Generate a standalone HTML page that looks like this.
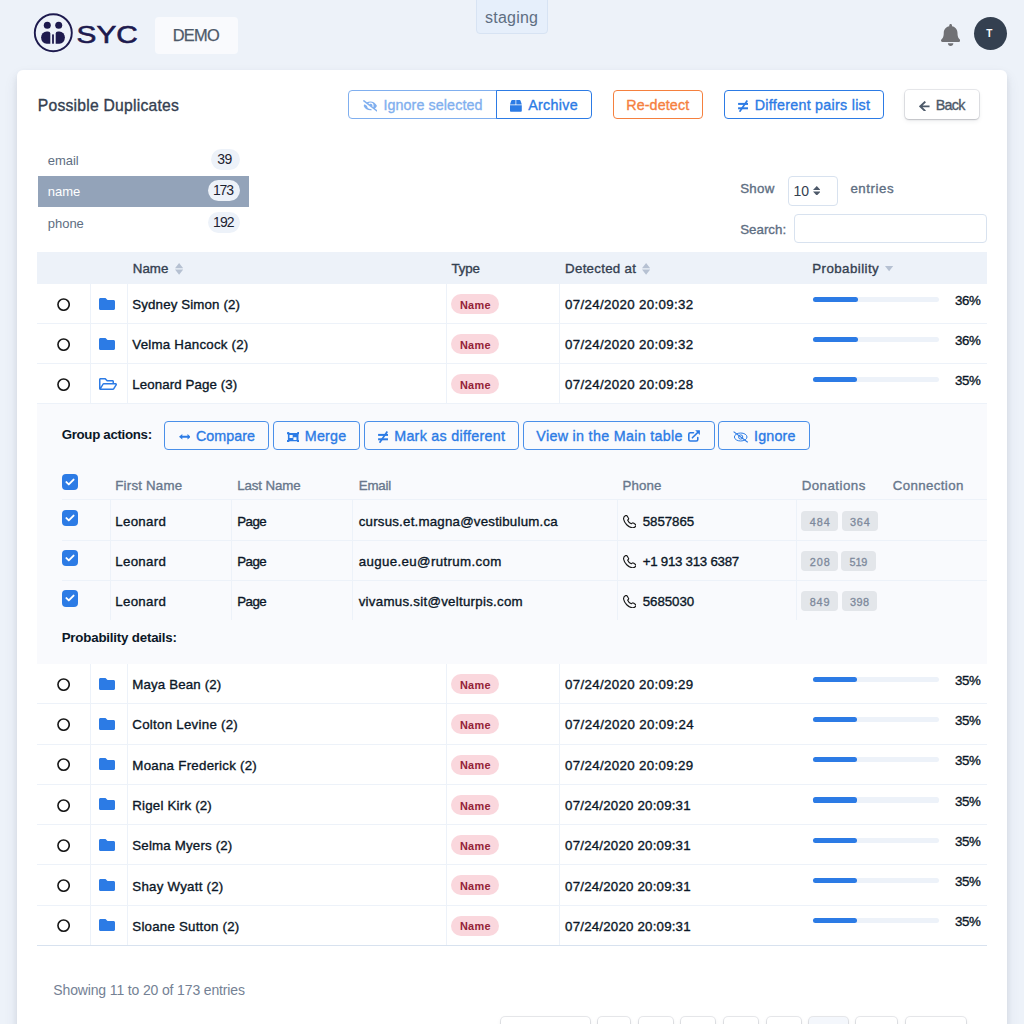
<!DOCTYPE html><html lang="en"><head><meta charset="utf-8"><title>Possible Duplicates</title><style>
html,body{margin:0;padding:0}body{position:relative;width:1024px;height:1024px;overflow:hidden;background:#edf2f9;font-family:'Liberation Sans',sans-serif;}
.a{position:absolute;box-sizing:border-box;display:block}.t{position:absolute;white-space:pre;line-height:20px;margin:0;padding:0;font-weight:400}
button{font-family:inherit;padding:0;margin:0;background:transparent}
.btn{position:absolute;box-sizing:border-box;border:1.2px solid #2c7be5;border-radius:4px;background:transparent}
.ln{position:absolute;background:#edf2f9}
ul{list-style:none;margin:0;padding:0}
</style></head><body>
<header>
<svg class="a" style="left:33px;top:13px" width="110" height="40" viewBox="0 0 110 40" ><circle cx="20.3" cy="19.8" r="18.5" fill="none" stroke="#1d1a4e" stroke-width="1.9"/><circle cx="14.3" cy="12.2" r="3.5" fill="#1d1a4e"/><circle cx="25.7" cy="12.2" r="3.5" fill="#1d1a4e"/><path fill="#1d1a4e" d="M17.3 20.6Q17.3 18.4 15 18.4L13.6 18.4A5.5 6.15 0 0 0 13.6 30.7L17.3 30.7Z"/><path fill="#1d1a4e" d="M22.7 20.6Q22.7 18.4 25 18.4L26.4 18.4A5.5 6.15 0 0 1 26.4 30.7L22.7 30.7Z"/><rect x="19.1" y="21.4" width="1.8" height="9.3" fill="#1d1a4e"/><text x="43.6" y="29.7" font-family="Liberation Sans, sans-serif" font-size="24.2" fill="#1d1a4e" textLength="61.2" lengthAdjust="spacingAndGlyphs" stroke="#1d1a4e" stroke-width="0.6">SYC</text></svg>
<div class="a" style="left:154.75px;top:16.5px;width:82.75px;height:37.25px;background:#f9fafd;border-radius:4px"></div>
<span class="t" style="left:172.70px;top:25.05px;font-size:16.4px;color:#4d5969;letter-spacing:-0.729px;-webkit-text-stroke:0.25px #4d5969;">DEMO</span>
<div class="a" style="left:476.25px;top:-4px;width:71.4px;height:37.5px;background:#e6effb;border:1px solid #d7e3f3;border-radius:4px"></div>
<span class="t" style="left:485.10px;top:7.55px;font-size:16px;color:#5e6e82;letter-spacing:0.201px;">staging</span>
<svg class="a" style="left:941px;top:24px" width="19.25" height="22" viewBox="0 0 448 512" ><path fill="#707175" d="M224 512c35.32 0 63.97-28.65 63.97-64H160.03c0 35.35 28.65 64 63.97 64zm215.39-149.71c-19.32-20.76-55.47-51.99-55.47-154.29 0-77.7-54.48-139.9-127.94-155.16V32c0-17.67-14.32-32-31.980-32s-31.980 14.330-31.980 32v20.840C118.560 68.100 64.080 130.300 64.080 208c0 102.300-36.150 133.530-55.470 154.290-6 6.450-8.660 14.160-8.610 21.710.110 16.400 12.980 32 32.100 32h383.800c19.120 0 32-15.600 32.100-32 .05-7.550-2.610-15.270-8.610-21.710z"/></svg>
<div class="a" style="left:973.7px;top:16.8px;width:33px;height:33px;background:#344050;border-radius:50%"></div>
<span class="t" style="left:986.30px;top:23.55px;font-size:10px;color:#fff;font-weight:700;">T</span>
</header>
<main>
<div class="a" style="left:16.6px;top:70px;width:990.8px;height:1000px;background:#fff;border-radius:6px;box-shadow:0 7px 14px 0 rgba(59,65,94,.1),0 3px 6px 0 rgba(0,0,0,.07)"></div>
<h5 class="t" style="left:37.80px;top:95.55px;font-size:15.7px;color:#344050;letter-spacing:0.233px;-webkit-text-stroke:0.35px #344050;">Possible Duplicates</h5>
<div style="opacity:.6">
<button class="btn" style="left:347.8px;top:89.8px;width:149.2px;height:29.4px;border-radius:4px 0 0 4px"></button>
<svg class="a" style="left:362.8px;top:100px" width="14.6" height="11.68" viewBox="0 0 640 512" ><path fill="#2c7be5" d="M320 400c-75.85 0-137.25-58.71-142.9-133.11L72.2 185.82c-13.79 17.3-26.48 35.59-36.72 55.59a32.35 32.35 0 0 0 0 29.19C89.71 376.41 197.07 448 320 448c26.91 0 52.87-4 77.89-10.46L346 397.39a144.13 144.13 0 0 1-26 2.61zm313.82 58.1l-110.55-85.44a331.25 331.25 0 0 0 81.25-102.07 32.35 32.35 0 0 0 0-29.19C550.29 135.59 442.93 64 320 64a308.15 308.15 0 0 0-147.32 37.7L45.46 3.37A16 16 0 0 0 23 6.18L3.37 31.45A16 16 0 0 0 6.18 53.9l588.36 454.73a16 16 0 0 0 22.46-2.81l19.64-25.27a16 16 0 0 0-2.82-22.45zm-183.72-142l-39.3-30.38A94.75 94.75 0 0 0 416 256a94.76 94.76 0 0 0-121.31-92.21A47.65 47.65 0 0 1 304 192a46.64 46.64 0 0 1-1.54 10l-73.61-56.89A142.31 142.31 0 0 1 320 112a143.92 143.92 0 0 1 144 144c0 21.63-5.29 41.79-13.9 60.11z"/></svg>
<span class="t" style="left:383.45px;top:95.05px;font-size:14.3px;color:#2c7be5;letter-spacing:0.088px;-webkit-text-stroke:0.35px #2c7be5;">Ignore selected</span>
</div>
<button class="btn" style="left:495.8px;top:89.8px;width:96.2px;height:29.4px;border-radius:0 4px 4px 0"></button>
<svg class="a" style="left:510.25px;top:100px" width="11.8" height="11.8" viewBox="0 0 512 512" ><path fill="#2c7be5" d="M509.5 184.6L458.9 32.8C452.4 13.2 434.1 0 413.4 0H272v192h238.7c-.4-2.5-.4-5-1.2-7.4zM240 0H98.6c-20.7 0-39 13.2-45.5 32.8L2.5 184.6c-.8 2.4-.8 4.9-1.2 7.4H240V0zM0 224v240c0 26.5 21.5 48 48 48h416c26.5 0 48-21.5 48-48V224H0z"/></svg>
<span class="t" style="left:528.20px;top:95.05px;font-size:14.3px;color:#2c7be5;letter-spacing:0.302px;-webkit-text-stroke:0.35px #2c7be5;">Archive</span>
<button class="btn" style="left:612.9px;top:89.8px;width:89.9px;height:29.4px;border-color:#f5803e"></button>
<span class="t" style="left:626.20px;top:95.05px;font-size:14.3px;color:#f5803e;letter-spacing:0.127px;-webkit-text-stroke:0.35px #f5803e;">Re-detect</span>
<button class="btn" style="left:723.8px;top:89.8px;width:159.9px;height:29.4px;"></button>
<svg class="a" style="left:738px;top:100px" width="10.4" height="12" viewBox="0 0 10.4 12" ><g fill="#2c7be5"><rect x="0.100" y="2.900" width="10.200" height="2"/><rect x="0.100" y="7.300" width="10.200" height="2"/><path d="M0.900 11.300L8.600 0.100L10 1L2.300 12.200Z"/></g></svg>
<span class="t" style="left:754.70px;top:95.05px;font-size:14.3px;color:#2c7be5;letter-spacing:0.269px;-webkit-text-stroke:0.35px #2c7be5;">Different pairs list</span>
<button class="btn" style="left:905.2px;top:90.3px;width:73.4px;height:28.4px;border:0;background:#fff;border-radius:4px;box-shadow:0 0 0 1px rgba(43,45,80,.1),0 2px 5px 0 rgba(43,45,80,.08),0 1px 1.5px 0 rgba(0,0,0,.07),0 1px 2px 0 rgba(0,0,0,.08)"></button>
<svg class="a" style="left:918.6px;top:100.6px" width="11" height="10.8" viewBox="0 0 11 10.8" ><path fill="none" stroke="#4d5969" stroke-width="1.9" stroke-linecap="square" d="M1.500 5.400H9.600M5.600 1.300L1.300 5.400L5.600 9.500"/></svg>
<span class="t" style="left:935.70px;top:95.05px;font-size:14.3px;color:#4d5969;letter-spacing:-0.732px;-webkit-text-stroke:0.35px #4d5969;">Back</span>
<ul>
<div class="a" style="left:38px;top:175.5px;width:211px;height:31.4px;background:#93a3b9"></div>
<li>
<span class="t" style="left:47.70px;top:150.55px;font-size:13px;color:#5e6e82;">email</span>
<div class="a" style="left:210.6px;top:149.0px;width:29.0px;height:20.8px;background:#edf2f9;border-radius:10.4px"></div>
<span class="t" style="left:217.20px;top:149.05px;font-size:14px;color:#1c2230;letter-spacing:-0.578px;">39</span>
</li>
<li>
<span class="t" style="left:47.70px;top:181.55px;font-size:13px;color:#fff;">name</span>
<div class="a" style="left:207.9px;top:180.45px;width:31.69999999999999px;height:20.8px;background:#edf2f9;border-radius:10.4px"></div>
<span class="t" style="left:213.00px;top:180.05px;font-size:14px;color:#1c2230;letter-spacing:-1.180px;">173</span>
</li>
<li>
<span class="t" style="left:47.70px;top:213.55px;font-size:13px;color:#5e6e82;">phone</span>
<div class="a" style="left:207.9px;top:211.9px;width:31.69999999999999px;height:20.8px;background:#edf2f9;border-radius:10.4px"></div>
<span class="t" style="left:213.00px;top:212.05px;font-size:14px;color:#1c2230;letter-spacing:-0.880px;">192</span>
</li>
</ul>
<span class="t" style="left:740.20px;top:178.55px;font-size:13.3px;color:#5e6e82;letter-spacing:0.311px;-webkit-text-stroke:0.35px #5e6e82;">Show</span>
<div class="a" style="left:787.5px;top:175.5px;width:50.3px;height:30px;border:1px solid #d8e2ef;border-radius:4px;background:#fff"></div>
<span class="t" style="left:793.40px;top:181.05px;font-size:14px;color:#344050;">10</span>
<svg class="a" style="left:812.7px;top:185.7px" width="7.6" height="9.6" viewBox="0 0 7.6 9.6" ><path fill="#4d5969" d="M3.8 0L7.6 4.1H0ZM3.8 9.6L0 5.5H7.6Z"/></svg>
<span class="t" style="left:850.40px;top:178.55px;font-size:13.3px;color:#5e6e82;letter-spacing:0.546px;-webkit-text-stroke:0.35px #5e6e82;">entries</span>
<span class="t" style="left:740.20px;top:219.55px;font-size:13.3px;color:#5e6e82;letter-spacing:0.012px;-webkit-text-stroke:0.35px #5e6e82;">Search:</span>
<div class="a" style="left:794.4px;top:214px;width:192.3px;height:28.7px;border:1px solid #d8e2ef;border-radius:4px;background:#fff"></div>
<div class="a" style="left:37.25px;top:251.8px;width:949.5px;height:31.8px;background:#edf2f9"></div>
<span class="t" style="left:132.80px;top:258.55px;font-size:13.3px;color:#344050;letter-spacing:0.039px;-webkit-text-stroke:0.35px #344050;">Name</span>
<svg class="a" style="left:174.9px;top:262.8px" width="8.2" height="11.8" viewBox="0 0 8.2 11.8" ><path fill="#b6c1d2" d="M4.1 0L8.2 5.3H0ZM4.1 11.8L0 6.5H8.2Z"/></svg>
<span class="t" style="left:451.50px;top:258.55px;font-size:13.3px;color:#344050;letter-spacing:-0.176px;-webkit-text-stroke:0.35px #344050;">Type</span>
<span class="t" style="left:565.10px;top:258.55px;font-size:13.3px;color:#344050;letter-spacing:0.278px;-webkit-text-stroke:0.35px #344050;">Detected at</span>
<svg class="a" style="left:641.9px;top:262.8px" width="8.2" height="11.8" viewBox="0 0 8.2 11.8" ><path fill="#b6c1d2" d="M4.1 0L8.2 5.3H0ZM4.1 11.8L0 6.5H8.2Z"/></svg>
<span class="t" style="left:812.30px;top:258.55px;font-size:13.3px;color:#344050;letter-spacing:0.431px;-webkit-text-stroke:0.35px #344050;">Probability</span>
<svg class="a" style="left:885.4px;top:266.3px" width="8.2" height="5.3" viewBox="0 0 8.2 5.3" ><path fill="#b6c1d2" d="M4.1 5.3L0 0H8.2Z"/></svg>
<div>
<i class="ln" style="left:89.9px;top:283.6px;width:1px;height:40px"></i>
<i class="ln" style="left:126.8px;top:283.6px;width:1px;height:40px"></i>
<i class="ln" style="left:445.6px;top:283.6px;width:1px;height:40px"></i>
<i class="ln" style="left:558.9px;top:283.6px;width:1px;height:40px"></i>
<i class="ln" style="left:37.25px;top:323.0px;width:949.5px;height:1.1px"></i>
<svg class="a" style="left:57.05px;top:297.8px" width="13.2" height="13.2" viewBox="0 0 13.2 13.2" ><circle cx="6.6" cy="6.6" r="5.650" fill="#fff" stroke="#161616" stroke-width="1.600"/></svg>
<svg class="a" style="left:99.2px;top:295.5px" width="16" height="16" viewBox="0 0 512 512" ><path fill="#2c7be5" d="M464 128H272l-64-64H48C21.49 64 0 85.49 0 112v288c0 26.51 21.49 48 48 48h416c26.51 0 48-21.49 48-48V176c0-26.51-21.49-48-48-48z"/></svg>
<span class="t" style="left:132.30px;top:294.55px;font-size:13.3px;color:#0b1727;letter-spacing:0.134px;-webkit-text-stroke:0.35px #0b1727;">Sydney Simon (2)</span>
<div class="a" style="left:451.2px;top:294.0px;width:48.1px;height:20.1px;background:#fad7dd;border-radius:10.1px"></div>
<span class="t" style="left:459.90px;top:295.05px;font-size:10.9px;color:#932338;font-weight:700;letter-spacing:0.343px;">Name</span>
<span class="t" style="left:565.10px;top:294.55px;font-size:13.3px;color:#0b1727;letter-spacing:0.332px;-webkit-text-stroke:0.35px #0b1727;">07/24/2020 20:09:32</span>
<div class="a" style="left:812.6px;top:296.6px;width:126.1px;height:5.1px;background:#edf2f9;border-radius:2.6px"></div>
<div class="a" style="left:812.6px;top:296.6px;width:45.4px;height:5.1px;background:#2c7be5;border-radius:2.6px"></div>
<span class="t" style="left:955.10px;top:290.55px;font-size:13.3px;color:#0b1727;letter-spacing:-0.412px;-webkit-text-stroke:0.35px #0b1727;">36%</span>
</div>
<div>
<i class="ln" style="left:89.9px;top:323.6px;width:1px;height:40px"></i>
<i class="ln" style="left:126.8px;top:323.6px;width:1px;height:40px"></i>
<i class="ln" style="left:445.6px;top:323.6px;width:1px;height:40px"></i>
<i class="ln" style="left:558.9px;top:323.6px;width:1px;height:40px"></i>
<i class="ln" style="left:37.25px;top:363.0px;width:949.5px;height:1.1px"></i>
<svg class="a" style="left:57.05px;top:337.8px" width="13.2" height="13.2" viewBox="0 0 13.2 13.2" ><circle cx="6.6" cy="6.6" r="5.650" fill="#fff" stroke="#161616" stroke-width="1.600"/></svg>
<svg class="a" style="left:99.2px;top:335.5px" width="16" height="16" viewBox="0 0 512 512" ><path fill="#2c7be5" d="M464 128H272l-64-64H48C21.49 64 0 85.49 0 112v288c0 26.51 21.49 48 48 48h416c26.51 0 48-21.49 48-48V176c0-26.51-21.49-48-48-48z"/></svg>
<span class="t" style="left:132.30px;top:334.55px;font-size:13.3px;color:#0b1727;letter-spacing:0.229px;-webkit-text-stroke:0.35px #0b1727;">Velma Hancock (2)</span>
<div class="a" style="left:451.2px;top:334.0px;width:48.1px;height:20.1px;background:#fad7dd;border-radius:10.1px"></div>
<span class="t" style="left:459.90px;top:335.05px;font-size:10.9px;color:#932338;font-weight:700;letter-spacing:0.343px;">Name</span>
<span class="t" style="left:565.10px;top:334.55px;font-size:13.3px;color:#0b1727;letter-spacing:0.332px;-webkit-text-stroke:0.35px #0b1727;">07/24/2020 20:09:32</span>
<div class="a" style="left:812.6px;top:336.6px;width:126.1px;height:5.1px;background:#edf2f9;border-radius:2.6px"></div>
<div class="a" style="left:812.6px;top:336.6px;width:45.4px;height:5.1px;background:#2c7be5;border-radius:2.6px"></div>
<span class="t" style="left:955.10px;top:330.55px;font-size:13.3px;color:#0b1727;letter-spacing:-0.412px;-webkit-text-stroke:0.35px #0b1727;">36%</span>
</div>
<div>
<i class="ln" style="left:89.9px;top:363.6px;width:1px;height:40px"></i>
<i class="ln" style="left:126.8px;top:363.6px;width:1px;height:40px"></i>
<i class="ln" style="left:445.6px;top:363.6px;width:1px;height:40px"></i>
<i class="ln" style="left:558.9px;top:363.6px;width:1px;height:40px"></i>
<i class="ln" style="left:37.25px;top:403.0px;width:949.5px;height:1.1px"></i>
<svg class="a" style="left:57.05px;top:377.8px" width="13.2" height="13.2" viewBox="0 0 13.2 13.2" ><circle cx="6.6" cy="6.6" r="5.650" fill="#fff" stroke="#161616" stroke-width="1.600"/></svg>
<svg class="a" style="left:99.2px;top:375.70000000000005px" width="18" height="16" viewBox="0 0 576 512" ><path fill="#2c7be5" d="M527.9 224H480v-48c0-26.5-21.5-48-48-48H272l-64-64H48C21.5 64 0 85.5 0 112v288c0 26.5 21.5 48 48 48h400c16.500 0 31.900-8.500 40.700-22.600l79.900-128c20-31.900-3-73.400-40.700-73.400zM48 118c0-3.300 2.700-6 6-6h134.100l64 64H426c3.300 0 6 2.700 6 6v42H152c-16.800 0-32.400 8.800-41.100 23.200L48 351.400zm400 282H72l77.200-128H528z"/></svg>
<span class="t" style="left:132.30px;top:374.55px;font-size:13.3px;color:#0b1727;letter-spacing:0.100px;-webkit-text-stroke:0.35px #0b1727;">Leonard Page (3)</span>
<div class="a" style="left:451.2px;top:374.0px;width:48.1px;height:20.1px;background:#fad7dd;border-radius:10.1px"></div>
<span class="t" style="left:459.90px;top:375.05px;font-size:10.9px;color:#932338;font-weight:700;letter-spacing:0.343px;">Name</span>
<span class="t" style="left:565.10px;top:374.55px;font-size:13.3px;color:#0b1727;letter-spacing:0.332px;-webkit-text-stroke:0.35px #0b1727;">07/24/2020 20:09:28</span>
<div class="a" style="left:812.6px;top:376.6px;width:126.1px;height:5.1px;background:#edf2f9;border-radius:2.6px"></div>
<div class="a" style="left:812.6px;top:376.6px;width:44.1px;height:5.1px;background:#2c7be5;border-radius:2.6px"></div>
<span class="t" style="left:955.10px;top:370.55px;font-size:13.3px;color:#0b1727;letter-spacing:-0.412px;-webkit-text-stroke:0.35px #0b1727;">35%</span>
</div>
<div class="a" style="left:37.25px;top:403.5px;width:949.5px;height:260.1px;background:#f9fafd"></div>
<span class="t" style="left:61.70px;top:424.55px;font-size:13.3px;color:#0b1727;font-weight:700;letter-spacing:-0.320px;">Group actions:</span>
<button class="btn" style="left:164.1px;top:421px;width:104.5px;height:29.3px;border-color:#4a8fe9"></button>
<svg class="a" style="left:178.7px;top:434.1px" width="11.8" height="5.6" viewBox="0 0 11.8 5.6" ><path fill="#2c7be5" d="M0 2.800L3.300 0V1.800H8.500V0L11.800 2.800L8.500 5.600V3.800H3.300V5.600Z"/></svg>
<span class="t" style="left:196.00px;top:426.05px;font-size:14.3px;color:#2c7be5;letter-spacing:0.015px;-webkit-text-stroke:0.35px #2c7be5;">Compare</span>
<button class="btn" style="left:272.6px;top:421px;width:87.2px;height:29.3px;border-color:#4a8fe9"></button>
<svg class="a" style="left:286.8px;top:431.8px" width="12.4" height="10.2" viewBox="0 0 12.4 10.2" ><g fill="#2c7be5"><path fill-rule="evenodd" d="M0.900 0.900H11.500V9.300H0.900ZM2.500 2.900V5.900H5.700V2.900ZM6.400 5.300V8.100H9.500V5.300Z"/><rect x="0" y="0" width="2.300" height="2.300" rx="0.400"/><rect x="10.100" y="0" width="2.300" height="2.300" rx="0.400"/><rect x="0" y="7.900" width="2.300" height="2.300" rx="0.400"/><rect x="10.100" y="7.900" width="2.300" height="2.300" rx="0.400"/></g></svg>
<span class="t" style="left:304.80px;top:426.05px;font-size:14.3px;color:#2c7be5;letter-spacing:0.192px;-webkit-text-stroke:0.35px #2c7be5;">Merge</span>
<button class="btn" style="left:363.9px;top:421px;width:154.8px;height:29.3px;border-color:#4a8fe9"></button>
<svg class="a" style="left:378.1px;top:431.2px" width="10.4" height="12" viewBox="0 0 10.4 12" ><g fill="#2c7be5"><rect x="0.100" y="2.900" width="10.200" height="2"/><rect x="0.100" y="7.300" width="10.200" height="2"/><path d="M0.900 11.300L8.600 0.100L10 1L2.300 12.200Z"/></g></svg>
<span class="t" style="left:394.20px;top:426.05px;font-size:14.3px;color:#2c7be5;letter-spacing:0.286px;-webkit-text-stroke:0.35px #2c7be5;">Mark as different</span>
<button class="btn" style="left:522.5px;top:421px;width:192.2px;height:29.3px;border-color:#4a8fe9"></button>
<span class="t" style="left:536.30px;top:426.05px;font-size:14.3px;color:#2c7be5;letter-spacing:0.313px;-webkit-text-stroke:0.35px #2c7be5;">View in the Main table</span>
<svg class="a" style="left:688.1px;top:430px" width="12.2" height="11.8" viewBox="0 0 12.2 11.8" ><path fill="none" stroke="#2c7be5" stroke-width="1.6" stroke-linecap="round" stroke-linejoin="round" d="M5.500 2.800H2.300Q0.800 2.800 0.800 4.300V9.500Q0.800 11 2.300 11H8.300Q9.800 11 9.800 9.500V7.600M4.400 7.800L10.600 1.600"/><path fill="#2c7be5" d="M7.200 0.300H11.900V5Z"/></svg>
<button class="btn" style="left:718.4px;top:421px;width:91.6px;height:29.3px;border-color:#4a8fe9"></button>
<svg class="a" style="left:733px;top:431px" width="15.4" height="12" viewBox="0 0 15.4 12" ><g fill="none" stroke="#2c7be5" stroke-width="1"><ellipse cx="7.7" cy="6" rx="6.3" ry="4"/><circle cx="7.7" cy="6" r="2.1"/><path d="M0.6 0.6L14.8 11.4" stroke-width="1.1"/></g></svg>
<span class="t" style="left:754.00px;top:426.05px;font-size:14.3px;color:#2c7be5;letter-spacing:0.191px;-webkit-text-stroke:0.35px #2c7be5;">Ignore</span>
<div class="a" style="left:62px;top:473.8px;width:16.2px;height:16.2px;background:#2c7be5;border-radius:4px"></div><svg class="a" style="left:62px;top:473.8px" width="16.2" height="16.2" viewBox="0 0 16.2 16.2" ><path fill="none" stroke="#fff" stroke-width="1.9" stroke-linecap="round" stroke-linejoin="round" d="M4.400 8.100L6.800 10.400L11.600 5.600"/></svg>
<span class="t" style="left:115.30px;top:475.55px;font-size:13.3px;color:#68778c;letter-spacing:0.198px;-webkit-text-stroke:0.35px #68778c;">First Name</span>
<span class="t" style="left:237.20px;top:475.55px;font-size:13.3px;color:#68778c;letter-spacing:-0.100px;-webkit-text-stroke:0.35px #68778c;">Last Name</span>
<span class="t" style="left:358.70px;top:475.55px;font-size:13.3px;color:#68778c;letter-spacing:-0.162px;-webkit-text-stroke:0.35px #68778c;">Email</span>
<span class="t" style="left:622.40px;top:475.55px;font-size:13.3px;color:#68778c;letter-spacing:0.137px;-webkit-text-stroke:0.35px #68778c;">Phone</span>
<span class="t" style="left:801.70px;top:475.55px;font-size:13.3px;color:#68778c;letter-spacing:0.466px;-webkit-text-stroke:0.35px #68778c;">Donations</span>
<span class="t" style="left:892.70px;top:475.55px;font-size:13.3px;color:#68778c;letter-spacing:0.380px;-webkit-text-stroke:0.35px #68778c;">Connection</span>
<i class="ln" style="left:62px;top:499.4px;width:924.75px;height:1.1px"></i>
<i class="ln" style="left:109.7px;top:500.4px;width:1px;height:120px"></i>
<i class="ln" style="left:231.4px;top:500.4px;width:1px;height:120px"></i>
<i class="ln" style="left:352.4px;top:500.4px;width:1px;height:120px"></i>
<i class="ln" style="left:616.8px;top:500.4px;width:1px;height:120px"></i>
<i class="ln" style="left:795.6px;top:500.4px;width:1px;height:120px"></i>
<i class="ln" style="left:62px;top:539.8px;width:924.75px;height:1.1px"></i>
<div class="a" style="left:62px;top:510.2px;width:16.2px;height:16.2px;background:#2c7be5;border-radius:4px"></div><svg class="a" style="left:62px;top:510.2px" width="16.2" height="16.2" viewBox="0 0 16.2 16.2" ><path fill="none" stroke="#fff" stroke-width="1.9" stroke-linecap="round" stroke-linejoin="round" d="M4.400 8.100L6.800 10.400L11.600 5.600"/></svg>
<span class="t" style="left:115.30px;top:511.55px;font-size:13.3px;color:#0b1727;letter-spacing:0.281px;-webkit-text-stroke:0.35px #0b1727;">Leonard</span>
<span class="t" style="left:237.20px;top:511.55px;font-size:13.3px;color:#0b1727;letter-spacing:-0.521px;-webkit-text-stroke:0.35px #0b1727;">Page</span>
<span class="t" style="left:358.70px;top:511.55px;font-size:13.3px;color:#0b1727;letter-spacing:0.211px;-webkit-text-stroke:0.35px #0b1727;">cursus.et.magna@vestibulum.ca</span>
<svg class="a" style="left:622.6px;top:514.8px" width="13.6" height="13.4" viewBox="0 0 13.6 13.4" ><path fill="none" stroke="#1a1a1a" stroke-width="1.150" stroke-linejoin="round" d="M2.700 0.600C1.500 1.200 0.300 2.200 0.600 4.200C1.300 8.200 5.300 12.200 9.300 12.800C11.300 13.100 12.300 11.900 12.900 10.700C13.100 10.200 12.900 9.800 12.500 9.500L10.500 8.100C10.100 7.800 9.600 7.800 9.200 8.100L8.300 8.800C6.800 8.200 5.300 6.700 4.700 5.200L5.400 4.300C5.700 3.900 5.700 3.400 5.400 3L4 0.900C3.700 0.500 3.200 0.400 2.700 0.600Z"/></svg>
<span class="t" style="left:642.70px;top:511.55px;font-size:13.3px;color:#0b1727;letter-spacing:-0.047px;-webkit-text-stroke:0.35px #0b1727;">5857865</span>
<div class="a" style="left:801.4px;top:511.0px;width:36.6px;height:20.1px;background:#e3e6ea;border-radius:4px"></div>
<span class="t" style="left:809.70px;top:512.05px;font-size:10.9px;color:#7d899b;letter-spacing:0.914px;-webkit-text-stroke:0.3px #7d899b;">484</span>
<div class="a" style="left:841.8px;top:511.0px;width:36.2px;height:20.1px;background:#e3e6ea;border-radius:4px"></div>
<span class="t" style="left:850.10px;top:512.05px;font-size:10.9px;color:#7d899b;letter-spacing:0.714px;-webkit-text-stroke:0.3px #7d899b;">364</span>
<i class="ln" style="left:62px;top:579.9px;width:924.75px;height:1.1px"></i>
<div class="a" style="left:62px;top:550.3px;width:16.2px;height:16.2px;background:#2c7be5;border-radius:4px"></div><svg class="a" style="left:62px;top:550.3px" width="16.2" height="16.2" viewBox="0 0 16.2 16.2" ><path fill="none" stroke="#fff" stroke-width="1.9" stroke-linecap="round" stroke-linejoin="round" d="M4.400 8.100L6.800 10.400L11.600 5.600"/></svg>
<span class="t" style="left:115.30px;top:551.55px;font-size:13.3px;color:#0b1727;letter-spacing:0.281px;-webkit-text-stroke:0.35px #0b1727;">Leonard</span>
<span class="t" style="left:237.20px;top:551.55px;font-size:13.3px;color:#0b1727;letter-spacing:-0.521px;-webkit-text-stroke:0.35px #0b1727;">Page</span>
<span class="t" style="left:358.70px;top:551.55px;font-size:13.3px;color:#0b1727;letter-spacing:0.361px;-webkit-text-stroke:0.35px #0b1727;">augue.eu@rutrum.com</span>
<svg class="a" style="left:622.6px;top:554.9px" width="13.6" height="13.4" viewBox="0 0 13.6 13.4" ><path fill="none" stroke="#1a1a1a" stroke-width="1.150" stroke-linejoin="round" d="M2.700 0.600C1.500 1.200 0.300 2.200 0.600 4.200C1.300 8.200 5.300 12.200 9.300 12.800C11.300 13.100 12.300 11.900 12.900 10.700C13.100 10.200 12.900 9.800 12.500 9.500L10.500 8.100C10.100 7.800 9.600 7.800 9.200 8.100L8.300 8.800C6.800 8.200 5.300 6.700 4.700 5.200L5.400 4.300C5.700 3.900 5.700 3.400 5.400 3L4 0.900C3.700 0.500 3.200 0.400 2.700 0.600Z"/></svg>
<span class="t" style="left:642.70px;top:551.55px;font-size:13.3px;color:#0b1727;letter-spacing:-0.265px;-webkit-text-stroke:0.35px #0b1727;">+1 913 313 6387</span>
<div class="a" style="left:801.4px;top:551.1px;width:36.6px;height:20.1px;background:#e3e6ea;border-radius:4px"></div>
<span class="t" style="left:809.70px;top:552.05px;font-size:10.9px;color:#7d899b;letter-spacing:0.914px;-webkit-text-stroke:0.3px #7d899b;">208</span>
<div class="a" style="left:841.2px;top:551.1px;width:34.5px;height:20.1px;background:#e3e6ea;border-radius:4px"></div>
<span class="t" style="left:849.50px;top:552.05px;font-size:10.9px;color:#7d899b;letter-spacing:-0.136px;-webkit-text-stroke:0.3px #7d899b;">519</span>
<div class="a" style="left:62px;top:590.4px;width:16.2px;height:16.2px;background:#2c7be5;border-radius:4px"></div><svg class="a" style="left:62px;top:590.4px" width="16.2" height="16.2" viewBox="0 0 16.2 16.2" ><path fill="none" stroke="#fff" stroke-width="1.9" stroke-linecap="round" stroke-linejoin="round" d="M4.400 8.100L6.800 10.400L11.600 5.600"/></svg>
<span class="t" style="left:115.30px;top:591.55px;font-size:13.3px;color:#0b1727;letter-spacing:0.281px;-webkit-text-stroke:0.35px #0b1727;">Leonard</span>
<span class="t" style="left:237.20px;top:591.55px;font-size:13.3px;color:#0b1727;letter-spacing:-0.521px;-webkit-text-stroke:0.35px #0b1727;">Page</span>
<span class="t" style="left:358.70px;top:591.55px;font-size:13.3px;color:#0b1727;letter-spacing:0.267px;-webkit-text-stroke:0.35px #0b1727;">vivamus.sit@velturpis.com</span>
<svg class="a" style="left:622.6px;top:595.0px" width="13.6" height="13.4" viewBox="0 0 13.6 13.4" ><path fill="none" stroke="#1a1a1a" stroke-width="1.150" stroke-linejoin="round" d="M2.700 0.600C1.500 1.200 0.300 2.200 0.600 4.200C1.300 8.200 5.300 12.200 9.300 12.800C11.300 13.100 12.300 11.900 12.900 10.700C13.100 10.200 12.900 9.800 12.500 9.500L10.500 8.100C10.100 7.800 9.600 7.800 9.200 8.100L8.300 8.800C6.800 8.200 5.300 6.700 4.700 5.200L5.400 4.300C5.700 3.900 5.700 3.400 5.400 3L4 0.900C3.700 0.500 3.200 0.400 2.700 0.600Z"/></svg>
<span class="t" style="left:642.70px;top:591.55px;font-size:13.3px;color:#0b1727;letter-spacing:-0.047px;-webkit-text-stroke:0.35px #0b1727;">5685030</span>
<div class="a" style="left:801.4px;top:591.2px;width:36.4px;height:20.1px;background:#e3e6ea;border-radius:4px"></div>
<span class="t" style="left:809.70px;top:592.05px;font-size:10.9px;color:#7d899b;letter-spacing:0.814px;-webkit-text-stroke:0.3px #7d899b;">849</span>
<div class="a" style="left:841.8px;top:591.2px;width:35.6px;height:20.1px;background:#e3e6ea;border-radius:4px"></div>
<span class="t" style="left:850.10px;top:592.05px;font-size:10.9px;color:#7d899b;letter-spacing:0.414px;-webkit-text-stroke:0.3px #7d899b;">398</span>
<span class="t" style="left:61.70px;top:627.55px;font-size:13.3px;color:#0b1727;font-weight:700;letter-spacing:-0.193px;">Probability details:</span>
<div>
<i class="ln" style="left:89.9px;top:663.6px;width:1px;height:40.28px"></i>
<i class="ln" style="left:126.8px;top:663.6px;width:1px;height:40.28px"></i>
<i class="ln" style="left:445.6px;top:663.6px;width:1px;height:40.28px"></i>
<i class="ln" style="left:558.9px;top:663.6px;width:1px;height:40.28px"></i>
<i class="ln" style="left:37.25px;top:703.3px;width:949.5px;height:1.1px"></i>
<svg class="a" style="left:57.05px;top:677.8px" width="13.2" height="13.2" viewBox="0 0 13.2 13.2" ><circle cx="6.6" cy="6.6" r="5.650" fill="#fff" stroke="#161616" stroke-width="1.600"/></svg>
<svg class="a" style="left:99.2px;top:675.5px" width="16" height="16" viewBox="0 0 512 512" ><path fill="#2c7be5" d="M464 128H272l-64-64H48C21.49 64 0 85.49 0 112v288c0 26.51 21.49 48 48 48h416c26.51 0 48-21.49 48-48V176c0-26.51-21.49-48-48-48z"/></svg>
<span class="t" style="left:132.30px;top:674.55px;font-size:13.3px;color:#0b1727;letter-spacing:0.148px;-webkit-text-stroke:0.35px #0b1727;">Maya Bean (2)</span>
<div class="a" style="left:451.2px;top:674.0px;width:48.1px;height:20.1px;background:#fad7dd;border-radius:10.1px"></div>
<span class="t" style="left:459.90px;top:675.05px;font-size:10.9px;color:#932338;font-weight:700;letter-spacing:0.343px;">Name</span>
<span class="t" style="left:565.10px;top:674.55px;font-size:13.3px;color:#0b1727;letter-spacing:0.332px;-webkit-text-stroke:0.35px #0b1727;">07/24/2020 20:09:29</span>
<div class="a" style="left:812.6px;top:676.6px;width:126.1px;height:5.1px;background:#edf2f9;border-radius:2.6px"></div>
<div class="a" style="left:812.6px;top:676.6px;width:44.1px;height:5.1px;background:#2c7be5;border-radius:2.6px"></div>
<span class="t" style="left:955.10px;top:670.55px;font-size:13.3px;color:#0b1727;letter-spacing:-0.412px;-webkit-text-stroke:0.35px #0b1727;">35%</span>
</div>
<div>
<i class="ln" style="left:89.9px;top:703.88px;width:1px;height:40.28px"></i>
<i class="ln" style="left:126.8px;top:703.88px;width:1px;height:40.28px"></i>
<i class="ln" style="left:445.6px;top:703.88px;width:1px;height:40.28px"></i>
<i class="ln" style="left:558.9px;top:703.88px;width:1px;height:40.28px"></i>
<i class="ln" style="left:37.25px;top:743.6px;width:949.5px;height:1.1px"></i>
<svg class="a" style="left:57.05px;top:718.08px" width="13.2" height="13.2" viewBox="0 0 13.2 13.2" ><circle cx="6.6" cy="6.6" r="5.650" fill="#fff" stroke="#161616" stroke-width="1.600"/></svg>
<svg class="a" style="left:99.2px;top:715.78px" width="16" height="16" viewBox="0 0 512 512" ><path fill="#2c7be5" d="M464 128H272l-64-64H48C21.49 64 0 85.49 0 112v288c0 26.51 21.49 48 48 48h416c26.51 0 48-21.49 48-48V176c0-26.51-21.49-48-48-48z"/></svg>
<span class="t" style="left:132.30px;top:714.55px;font-size:13.3px;color:#0b1727;letter-spacing:0.265px;-webkit-text-stroke:0.35px #0b1727;">Colton Levine (2)</span>
<div class="a" style="left:451.2px;top:714.28px;width:48.1px;height:20.1px;background:#fad7dd;border-radius:10.1px"></div>
<span class="t" style="left:459.90px;top:715.05px;font-size:10.9px;color:#932338;font-weight:700;letter-spacing:0.343px;">Name</span>
<span class="t" style="left:565.10px;top:714.55px;font-size:13.3px;color:#0b1727;letter-spacing:0.360px;-webkit-text-stroke:0.35px #0b1727;">07/24/2020 20:09:24</span>
<div class="a" style="left:812.6px;top:716.88px;width:126.1px;height:5.1px;background:#edf2f9;border-radius:2.6px"></div>
<div class="a" style="left:812.6px;top:716.88px;width:44.1px;height:5.1px;background:#2c7be5;border-radius:2.6px"></div>
<span class="t" style="left:955.10px;top:710.55px;font-size:13.3px;color:#0b1727;letter-spacing:-0.412px;-webkit-text-stroke:0.35px #0b1727;">35%</span>
</div>
<div>
<i class="ln" style="left:89.9px;top:744.1600000000001px;width:1px;height:40.28px"></i>
<i class="ln" style="left:126.8px;top:744.1600000000001px;width:1px;height:40.28px"></i>
<i class="ln" style="left:445.6px;top:744.1600000000001px;width:1px;height:40.28px"></i>
<i class="ln" style="left:558.9px;top:744.1600000000001px;width:1px;height:40.28px"></i>
<i class="ln" style="left:37.25px;top:783.8px;width:949.5px;height:1.1px"></i>
<svg class="a" style="left:57.05px;top:758.36px" width="13.2" height="13.2" viewBox="0 0 13.2 13.2" ><circle cx="6.6" cy="6.6" r="5.650" fill="#fff" stroke="#161616" stroke-width="1.600"/></svg>
<svg class="a" style="left:99.2px;top:756.0600000000001px" width="16" height="16" viewBox="0 0 512 512" ><path fill="#2c7be5" d="M464 128H272l-64-64H48C21.49 64 0 85.49 0 112v288c0 26.51 21.49 48 48 48h416c26.51 0 48-21.49 48-48V176c0-26.51-21.49-48-48-48z"/></svg>
<span class="t" style="left:132.30px;top:755.55px;font-size:13.3px;color:#0b1727;letter-spacing:0.266px;-webkit-text-stroke:0.35px #0b1727;">Moana Frederick (2)</span>
<div class="a" style="left:451.2px;top:754.5600000000001px;width:48.1px;height:20.1px;background:#fad7dd;border-radius:10.1px"></div>
<span class="t" style="left:459.90px;top:755.05px;font-size:10.9px;color:#932338;font-weight:700;letter-spacing:0.343px;">Name</span>
<span class="t" style="left:565.10px;top:755.55px;font-size:13.3px;color:#0b1727;letter-spacing:0.332px;-webkit-text-stroke:0.35px #0b1727;">07/24/2020 20:09:29</span>
<div class="a" style="left:812.6px;top:757.1600000000001px;width:126.1px;height:5.1px;background:#edf2f9;border-radius:2.6px"></div>
<div class="a" style="left:812.6px;top:757.1600000000001px;width:44.1px;height:5.1px;background:#2c7be5;border-radius:2.6px"></div>
<span class="t" style="left:955.10px;top:750.55px;font-size:13.3px;color:#0b1727;letter-spacing:-0.412px;-webkit-text-stroke:0.35px #0b1727;">35%</span>
</div>
<div>
<i class="ln" style="left:89.9px;top:784.44px;width:1px;height:40.28px"></i>
<i class="ln" style="left:126.8px;top:784.44px;width:1px;height:40.28px"></i>
<i class="ln" style="left:445.6px;top:784.44px;width:1px;height:40.28px"></i>
<i class="ln" style="left:558.9px;top:784.44px;width:1px;height:40.28px"></i>
<i class="ln" style="left:37.25px;top:824.1px;width:949.5px;height:1.1px"></i>
<svg class="a" style="left:57.05px;top:798.64px" width="13.2" height="13.2" viewBox="0 0 13.2 13.2" ><circle cx="6.6" cy="6.6" r="5.650" fill="#fff" stroke="#161616" stroke-width="1.600"/></svg>
<svg class="a" style="left:99.2px;top:796.34px" width="16" height="16" viewBox="0 0 512 512" ><path fill="#2c7be5" d="M464 128H272l-64-64H48C21.49 64 0 85.49 0 112v288c0 26.51 21.49 48 48 48h416c26.51 0 48-21.49 48-48V176c0-26.51-21.49-48-48-48z"/></svg>
<span class="t" style="left:132.30px;top:795.55px;font-size:13.3px;color:#0b1727;letter-spacing:0.204px;-webkit-text-stroke:0.35px #0b1727;">Rigel Kirk (2)</span>
<div class="a" style="left:451.2px;top:794.84px;width:48.1px;height:20.1px;background:#fad7dd;border-radius:10.1px"></div>
<span class="t" style="left:459.90px;top:796.05px;font-size:10.9px;color:#932338;font-weight:700;letter-spacing:0.343px;">Name</span>
<span class="t" style="left:565.10px;top:795.55px;font-size:13.3px;color:#0b1727;letter-spacing:0.194px;-webkit-text-stroke:0.35px #0b1727;">07/24/2020 20:09:31</span>
<div class="a" style="left:812.6px;top:797.44px;width:126.1px;height:5.1px;background:#edf2f9;border-radius:2.6px"></div>
<div class="a" style="left:812.6px;top:797.44px;width:44.1px;height:5.1px;background:#2c7be5;border-radius:2.6px"></div>
<span class="t" style="left:955.10px;top:791.55px;font-size:13.3px;color:#0b1727;letter-spacing:-0.412px;-webkit-text-stroke:0.35px #0b1727;">35%</span>
</div>
<div>
<i class="ln" style="left:89.9px;top:824.72px;width:1px;height:40.28px"></i>
<i class="ln" style="left:126.8px;top:824.72px;width:1px;height:40.28px"></i>
<i class="ln" style="left:445.6px;top:824.72px;width:1px;height:40.28px"></i>
<i class="ln" style="left:558.9px;top:824.72px;width:1px;height:40.28px"></i>
<i class="ln" style="left:37.25px;top:864.4px;width:949.5px;height:1.1px"></i>
<svg class="a" style="left:57.05px;top:838.92px" width="13.2" height="13.2" viewBox="0 0 13.2 13.2" ><circle cx="6.6" cy="6.6" r="5.650" fill="#fff" stroke="#161616" stroke-width="1.600"/></svg>
<svg class="a" style="left:99.2px;top:836.62px" width="16" height="16" viewBox="0 0 512 512" ><path fill="#2c7be5" d="M464 128H272l-64-64H48C21.49 64 0 85.49 0 112v288c0 26.51 21.49 48 48 48h416c26.51 0 48-21.49 48-48V176c0-26.51-21.49-48-48-48z"/></svg>
<span class="t" style="left:132.30px;top:835.55px;font-size:13.3px;color:#0b1727;letter-spacing:0.176px;-webkit-text-stroke:0.35px #0b1727;">Selma Myers (2)</span>
<div class="a" style="left:451.2px;top:835.12px;width:48.1px;height:20.1px;background:#fad7dd;border-radius:10.1px"></div>
<span class="t" style="left:459.90px;top:836.05px;font-size:10.9px;color:#932338;font-weight:700;letter-spacing:0.343px;">Name</span>
<span class="t" style="left:565.10px;top:835.55px;font-size:13.3px;color:#0b1727;letter-spacing:0.194px;-webkit-text-stroke:0.35px #0b1727;">07/24/2020 20:09:31</span>
<div class="a" style="left:812.6px;top:837.72px;width:126.1px;height:5.1px;background:#edf2f9;border-radius:2.6px"></div>
<div class="a" style="left:812.6px;top:837.72px;width:44.1px;height:5.1px;background:#2c7be5;border-radius:2.6px"></div>
<span class="t" style="left:955.10px;top:831.55px;font-size:13.3px;color:#0b1727;letter-spacing:-0.412px;-webkit-text-stroke:0.35px #0b1727;">35%</span>
</div>
<div>
<i class="ln" style="left:89.9px;top:865.0px;width:1px;height:40.28px"></i>
<i class="ln" style="left:126.8px;top:865.0px;width:1px;height:40.28px"></i>
<i class="ln" style="left:445.6px;top:865.0px;width:1px;height:40.28px"></i>
<i class="ln" style="left:558.9px;top:865.0px;width:1px;height:40.28px"></i>
<i class="ln" style="left:37.25px;top:904.7px;width:949.5px;height:1.1px"></i>
<svg class="a" style="left:57.05px;top:879.2px" width="13.2" height="13.2" viewBox="0 0 13.2 13.2" ><circle cx="6.6" cy="6.6" r="5.650" fill="#fff" stroke="#161616" stroke-width="1.600"/></svg>
<svg class="a" style="left:99.2px;top:876.9px" width="16" height="16" viewBox="0 0 512 512" ><path fill="#2c7be5" d="M464 128H272l-64-64H48C21.49 64 0 85.49 0 112v288c0 26.51 21.49 48 48 48h416c26.51 0 48-21.49 48-48V176c0-26.51-21.49-48-48-48z"/></svg>
<span class="t" style="left:132.30px;top:876.55px;font-size:13.3px;color:#0b1727;letter-spacing:0.244px;-webkit-text-stroke:0.35px #0b1727;">Shay Wyatt (2)</span>
<div class="a" style="left:451.2px;top:875.4px;width:48.1px;height:20.1px;background:#fad7dd;border-radius:10.1px"></div>
<span class="t" style="left:459.90px;top:876.05px;font-size:10.9px;color:#932338;font-weight:700;letter-spacing:0.343px;">Name</span>
<span class="t" style="left:565.10px;top:876.55px;font-size:13.3px;color:#0b1727;letter-spacing:0.194px;-webkit-text-stroke:0.35px #0b1727;">07/24/2020 20:09:31</span>
<div class="a" style="left:812.6px;top:878.0px;width:126.1px;height:5.1px;background:#edf2f9;border-radius:2.6px"></div>
<div class="a" style="left:812.6px;top:878.0px;width:44.1px;height:5.1px;background:#2c7be5;border-radius:2.6px"></div>
<span class="t" style="left:955.10px;top:871.55px;font-size:13.3px;color:#0b1727;letter-spacing:-0.412px;-webkit-text-stroke:0.35px #0b1727;">35%</span>
</div>
<div>
<i class="ln" style="left:89.9px;top:905.28px;width:1px;height:40.28px"></i>
<i class="ln" style="left:126.8px;top:905.28px;width:1px;height:40.28px"></i>
<i class="ln" style="left:445.6px;top:905.28px;width:1px;height:40.28px"></i>
<i class="ln" style="left:558.9px;top:905.28px;width:1px;height:40.28px"></i>
<i class="ln" style="left:37.25px;top:945.0px;width:949.5px;height:1.1px"></i>
<svg class="a" style="left:57.05px;top:919.48px" width="13.2" height="13.2" viewBox="0 0 13.2 13.2" ><circle cx="6.6" cy="6.6" r="5.650" fill="#fff" stroke="#161616" stroke-width="1.600"/></svg>
<svg class="a" style="left:99.2px;top:917.18px" width="16" height="16" viewBox="0 0 512 512" ><path fill="#2c7be5" d="M464 128H272l-64-64H48C21.49 64 0 85.49 0 112v288c0 26.51 21.49 48 48 48h416c26.51 0 48-21.49 48-48V176c0-26.51-21.49-48-48-48z"/></svg>
<span class="t" style="left:132.30px;top:916.55px;font-size:13.3px;color:#0b1727;letter-spacing:0.219px;-webkit-text-stroke:0.35px #0b1727;">Sloane Sutton (2)</span>
<div class="a" style="left:451.2px;top:915.68px;width:48.1px;height:20.1px;background:#fad7dd;border-radius:10.1px"></div>
<span class="t" style="left:459.90px;top:916.05px;font-size:10.9px;color:#932338;font-weight:700;letter-spacing:0.343px;">Name</span>
<span class="t" style="left:565.10px;top:916.55px;font-size:13.3px;color:#0b1727;letter-spacing:0.194px;-webkit-text-stroke:0.35px #0b1727;">07/24/2020 20:09:31</span>
<div class="a" style="left:812.6px;top:918.28px;width:126.1px;height:5.1px;background:#edf2f9;border-radius:2.6px"></div>
<div class="a" style="left:812.6px;top:918.28px;width:44.1px;height:5.1px;background:#2c7be5;border-radius:2.6px"></div>
<span class="t" style="left:955.10px;top:911.55px;font-size:13.3px;color:#0b1727;letter-spacing:-0.412px;-webkit-text-stroke:0.35px #0b1727;">35%</span>
</div>
<i class="a" style="left:37.25px;top:945px;width:949.5px;height:1.2px;background:#d8e2ef"></i>
<span class="t" style="left:53.30px;top:980.05px;font-size:14px;color:#748194;letter-spacing:-0.140px;">Showing 11 to 20 of 173 entries</span>
<nav>
<button class="btn" style="left:500.8px;top:1017.4px;width:89.4px;height:30px;border:0;background:#fff;border-radius:4px;box-shadow:0 0 0 1px rgba(43,45,80,.1),0 2px 5px 0 rgba(43,45,80,.08),0 1px 1.5px 0 rgba(0,0,0,.07),0 1px 2px 0 rgba(0,0,0,.08)"></button>
<span class="t" style="left:511.90px;top:1023.55px;font-size:13.3px;color:#4d5969;-webkit-text-stroke:0.35px #4d5969;">Previous</span>
<button class="btn" style="left:598.3000000000001px;top:1017.4px;width:31.5px;height:30px;border:0;background:#fff;border-radius:4px;box-shadow:0 0 0 1px rgba(43,45,80,.1),0 2px 5px 0 rgba(43,45,80,.08),0 1px 1.5px 0 rgba(0,0,0,.07),0 1px 2px 0 rgba(0,0,0,.08)"></button>
<span class="t" style="left:609.40px;top:1023.55px;font-size:13.3px;color:#4d5969;-webkit-text-stroke:0.35px #4d5969;">1</span>
<button class="btn" style="left:638.6px;top:1017.4px;width:34.1px;height:30px;border:0;background:#fff;border-radius:4px;box-shadow:0 0 0 1px rgba(43,45,80,.1),0 2px 5px 0 rgba(43,45,80,.08),0 1px 1.5px 0 rgba(0,0,0,.07),0 1px 2px 0 rgba(0,0,0,.08)"></button>
<span class="t" style="left:649.70px;top:1023.55px;font-size:13.3px;color:#4d5969;-webkit-text-stroke:0.35px #4d5969;">…</span>
<button class="btn" style="left:681.1px;top:1017.4px;width:34.3px;height:30px;border:0;background:#fff;border-radius:4px;box-shadow:0 0 0 1px rgba(43,45,80,.1),0 2px 5px 0 rgba(43,45,80,.08),0 1px 1.5px 0 rgba(0,0,0,.07),0 1px 2px 0 rgba(0,0,0,.08)"></button>
<span class="t" style="left:692.20px;top:1023.55px;font-size:13.3px;color:#4d5969;-webkit-text-stroke:0.35px #4d5969;">10</span>
<button class="btn" style="left:723.7px;top:1017.4px;width:34.2px;height:30px;border:0;background:#fff;border-radius:4px;box-shadow:0 0 0 1px rgba(43,45,80,.1),0 2px 5px 0 rgba(43,45,80,.08),0 1px 1.5px 0 rgba(0,0,0,.07),0 1px 2px 0 rgba(0,0,0,.08)"></button>
<span class="t" style="left:734.80px;top:1023.55px;font-size:13.3px;color:#4d5969;-webkit-text-stroke:0.35px #4d5969;">11</span>
<button class="btn" style="left:766.8000000000001px;top:1017.4px;width:34.3px;height:30px;border:0;background:#fff;border-radius:4px;box-shadow:0 0 0 1px rgba(43,45,80,.1),0 2px 5px 0 rgba(43,45,80,.08),0 1px 1.5px 0 rgba(0,0,0,.07),0 1px 2px 0 rgba(0,0,0,.08)"></button>
<span class="t" style="left:777.90px;top:1023.55px;font-size:13.3px;color:#4d5969;-webkit-text-stroke:0.35px #4d5969;">12</span>
<button class="btn" style="left:809.2px;top:1017.4px;width:38.9px;height:30px;border:0;background:#f4f7fc;border-radius:4px;box-shadow:0 0 0 1px rgba(43,45,80,.1),0 2px 5px 0 rgba(43,45,80,.08),0 1px 1.5px 0 rgba(0,0,0,.07),0 1px 2px 0 rgba(0,0,0,.08)"></button>
<span class="t" style="left:820.30px;top:1023.55px;font-size:13.3px;color:#4d5969;-webkit-text-stroke:0.35px #4d5969;">13</span>
<button class="btn" style="left:856.1px;top:1017.4px;width:41.3px;height:30px;border:0;background:#fff;border-radius:4px;box-shadow:0 0 0 1px rgba(43,45,80,.1),0 2px 5px 0 rgba(43,45,80,.08),0 1px 1.5px 0 rgba(0,0,0,.07),0 1px 2px 0 rgba(0,0,0,.08)"></button>
<span class="t" style="left:867.20px;top:1023.55px;font-size:13.3px;color:#4d5969;-webkit-text-stroke:0.35px #4d5969;">18</span>
<button class="btn" style="left:905.6px;top:1017.4px;width:60.3px;height:30px;border:0;background:#fff;border-radius:4px;box-shadow:0 0 0 1px rgba(43,45,80,.1),0 2px 5px 0 rgba(43,45,80,.08),0 1px 1.5px 0 rgba(0,0,0,.07),0 1px 2px 0 rgba(0,0,0,.08)"></button>
<span class="t" style="left:916.70px;top:1023.55px;font-size:13.3px;color:#4d5969;-webkit-text-stroke:0.35px #4d5969;">Next</span>
</nav>
</main></body></html>
